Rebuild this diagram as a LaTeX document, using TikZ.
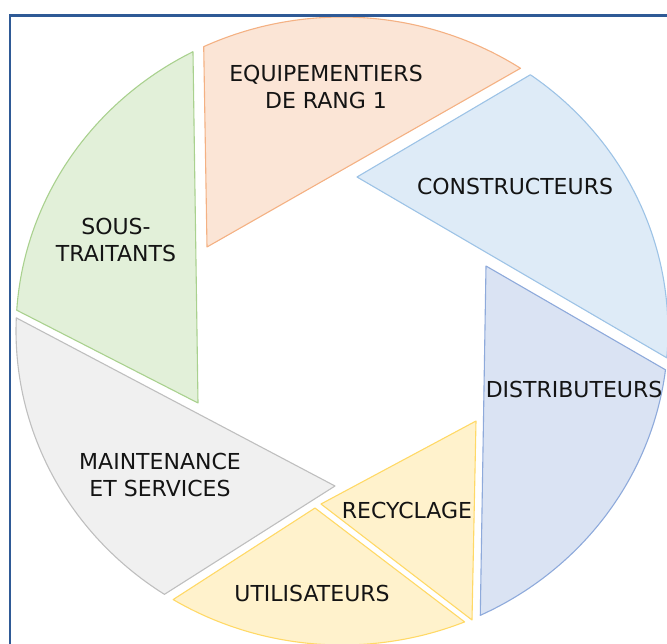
\documentclass[tikz,border=0pt]{standalone}
\usepackage{fontspec}
\setmainfont{DejaVu Sans}
\definecolor{frameblue}{HTML}{2F5A96}
\definecolor{orfill}{HTML}{FBE5D6}
\definecolor{ordraw}{HTML}{F4B183}
\definecolor{lbfill}{HTML}{DEEBF7}
\definecolor{lbdraw}{HTML}{9DC3E6}
\definecolor{dbfill}{HTML}{DAE3F3}
\definecolor{dbdraw}{HTML}{8EAADB}
\definecolor{grfill}{HTML}{E2F0D9}
\definecolor{grdraw}{HTML}{A9D18E}
\definecolor{gyfill}{HTML}{F0F0F0}
\definecolor{gydraw}{HTML}{BFBFBF}
\definecolor{yefill}{HTML}{FFF2CC}
\definecolor{yedraw}{HTML}{FFD966}
\definecolor{txt}{HTML}{141414}
\begin{document}
\begin{tikzpicture}[x=1pt,y=-1pt,
  blade/.style={line width=1.1pt, line join=round},
  lab/.style={inner sep=0pt, align=center, text=txt, font=\fontsize{22}{27}\selectfont}]
\useasboundingbox (0,0) rectangle (667,644);
% orange
\filldraw[blade, fill=orfill, draw=ordraw] plot[domain=-115.1:-56.8, samples=60] ({342+326*cos(\x)},{331+314*sin(\x)}) -- (207,247) -- cycle;
% light blue
\filldraw[blade, fill=lbfill, draw=lbdraw] plot[domain=-54.7:4.9, samples=60] ({342+326*cos(\x)},{331+314*sin(\x)}) -- (357,177) -- cycle;
% dark blue
\filldraw[blade, fill=dbfill, draw=dbdraw] plot[domain=7.1:64.9, samples=60] ({342+326*cos(\x)},{331+314*sin(\x)}) -- (486,266) -- cycle;
% recyclage
\filldraw[blade, fill=yefill, draw=yedraw] (476,421) -- (472,620) -- (321,504) -- cycle;
% utilisateurs
\filldraw[blade, fill=yefill, draw=yedraw] plot[domain=67.9:121.2, samples=60] ({342+326*cos(\x)},{331+314*sin(\x)}) -- (315,508) -- cycle;
% maintenance
\filldraw[blade, fill=gyfill, draw=gydraw] plot[domain=123.0:182.4, samples=60] ({342+326*cos(\x)},{331+314*sin(\x)}) -- (335,486) -- cycle;
% sous-traitants
\filldraw[blade, fill=grfill, draw=grdraw] plot[domain=183.8:242.8, samples=60] ({342+326*cos(\x)},{331+314*sin(\x)}) -- (198,403) -- cycle;
% frame
\draw[frameblue, line width=2.5pt] (10,650) -- (10,15.5) -- (675,15.5);
% labels
\node[lab] (equip) at (326,87) {EQUIPEMENTIERS\\DE RANG 1};
\node[lab] (constr) at (515,186) {CONSTRUCTEURS};
\node[lab] (sous) at (116,240) {SOUS-\\TRAITANTS};
\node[lab] (distrib) at (574,389) {DISTRIBUTEURS};
\node[lab] (maint) at (160,475) {MAINTENANCE\\ET SERVICES};
\node[lab] (recyc) at (407,510) {RECYCLAGE};
\node[lab] (util) at (312,593) {UTILISATEURS};
\end{tikzpicture}
\end{document}
